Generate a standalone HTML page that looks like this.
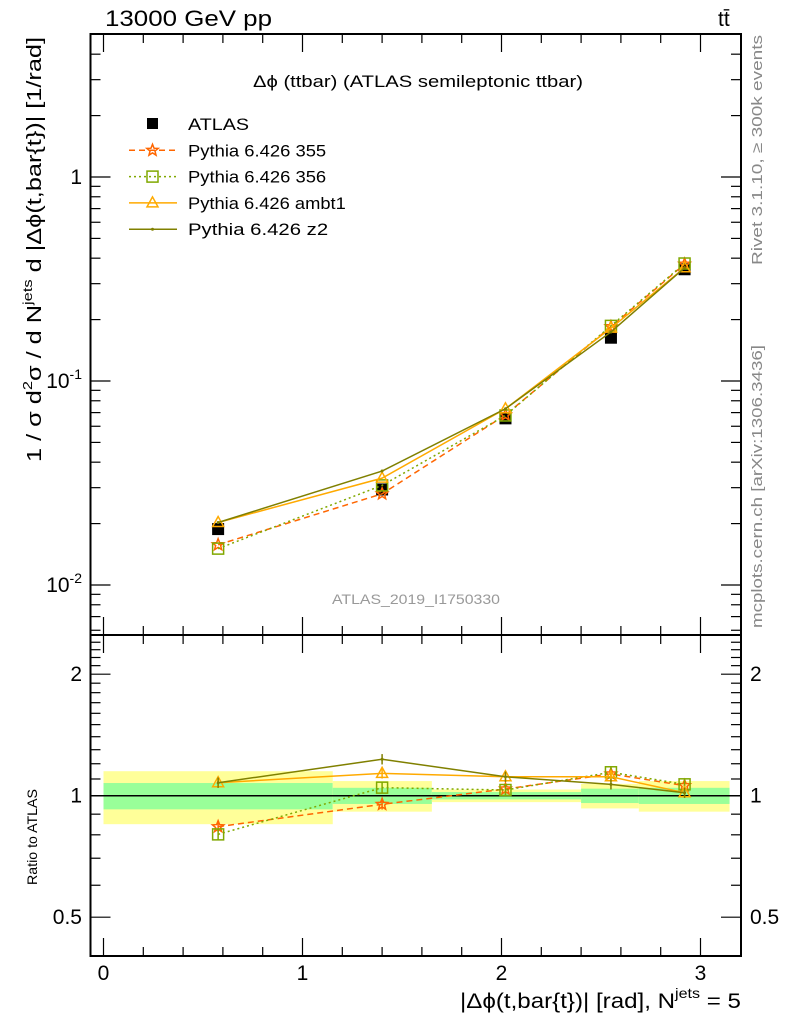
<!DOCTYPE html>
<html><head><meta charset="utf-8"><style>
body{margin:0;background:#fff;}
svg{display:block;font-family:"Liberation Sans",sans-serif;}
</style></head><body>
<svg id="chart" width="786" height="1024" xmlns="http://www.w3.org/2000/svg">
<text x="105" y="26" font-size="22" textLength="167" lengthAdjust="spacingAndGlyphs">13000 GeV pp</text>
<text x="718" y="26" font-size="21">tt̄</text>
<text x="253" y="87" font-size="17" textLength="330" lengthAdjust="spacingAndGlyphs">Δϕ (ttbar) (ATLAS semileptonic ttbar)</text>
<text x="332" y="604" font-size="14" fill="#999" textLength="168" lengthAdjust="spacingAndGlyphs">ATLAS_2019_I1750330</text>
<text transform="translate(762,265) rotate(-90)" font-size="15" fill="#888" textLength="230" lengthAdjust="spacingAndGlyphs">Rivet 3.1.10, ≥ 300k events</text>
<text transform="translate(762,628) rotate(-90)" font-size="15" fill="#888" textLength="283" lengthAdjust="spacingAndGlyphs">mcplots.cern.ch [arXiv:1306.3436]</text>
<text transform="translate(41,462) rotate(-90)" font-size="20" textLength="425" lengthAdjust="spacingAndGlyphs">1 / σ d<tspan font-size="13" dy="-9">2</tspan><tspan dy="9">σ  /  d N</tspan><tspan font-size="13" dy="-9">jets</tspan><tspan dy="9"> d |Δϕ(t,bar{t})| [1/rad]</tspan></text>
<text transform="translate(37,885) rotate(-90)" font-size="14" textLength="96" lengthAdjust="spacingAndGlyphs">Ratio to ATLAS</text>
<text x="460" y="1008" font-size="21" textLength="281" lengthAdjust="spacingAndGlyphs">|Δϕ(t,bar{t})| [rad], N<tspan font-size="14" dy="-10">jets</tspan><tspan dy="10"> = 5</tspan></text>
<g id="g"></g>
</svg>
<script>
const xCenters=[0.576,1.40,2.02,2.55,2.92];
const binEdges=[0,1.152,1.65,2.40,2.69,3.146];
const atlasVals=[0.0188,0.0294,0.0656,0.163,0.353];
const totErr=[0.15,0.087,0.036,0.07,0.087];
const statErr=[0.075,0.046,0.021,0.041,0.046];
const ratio355=[0.838,0.952,1.039,1.132,1.059];
const ratio356=[0.802,1.047,1.033,1.143,1.067];
const ratioAmbt1=[1.077,1.136,1.114,1.114,1.017];
const ratioZ2=[1.077,1.231,1.114,1.067,1.017];
const legendLabels=["ATLAS","Pythia 6.426 355","Pythia 6.426 356","Pythia 6.426 ambt1","Pythia 6.426 z2"];
const xTicks=[0,1,2,3];
const yTicks=[1,0.1,0.01];
const rTicks=[0.5,1,2];

const NS="http://www.w3.org/2000/svg";
const g=document.getElementById('g');
const L=90.5,R=741,T=34,M=635,B=956;
const X=v=>103.5+199*v;
const Y=v=>177-204*Math.log10(v);
const RY=v=>795.7-121.5*Math.log2(v);
function el(t,a,p){const e=document.createElementNS(NS,t);for(const k in a)e.setAttribute(k,a[k]);(p||g).appendChild(e);return e;}

for(let i=0;i<5;i++){
  const b1=el('rect',{x:X(binEdges[i]),y:RY(1+totErr[i]),width:X(binEdges[i+1])-X(binEdges[i]),height:RY(1-totErr[i])-RY(1+totErr[i]),fill:'#ffff99'});
  
  
  const b2=el('rect',{x:X(binEdges[i]),y:RY(1+statErr[i]),width:X(binEdges[i+1])-X(binEdges[i]),height:RY(1-statErr[i])-RY(1+statErr[i]),fill:'#99ff99'});
  
  
}
el('line',{x1:L,x2:R,y1:RY(1),y2:RY(1),stroke:'#000','stroke-width':1.5});

const f1=el('rect',{x:L,y:T,width:R-L,height:M-T,fill:'none',stroke:'#000','stroke-width':2});


const f2=el('rect',{x:L,y:M,width:R-L,height:B-M,fill:'none',stroke:'#000','stroke-width':2});



for(let v=0;v<=3.15;v+=0.2){
  const major=Math.abs(v-Math.round(v))<1e-6;const len=major?18:9;const x=X(v);
  [[T,1],[M,-1],[M,1],[B,-1]].forEach(([y0,d])=>el('line',{x1:x,x2:x,y1:y0,y2:y0+d*len,stroke:'#000','stroke-width':1.2}));
}
xTicks.forEach(v=>{const t=el('text',{x:X(v),y:980,'font-size':21,'text-anchor':'middle'});t.textContent=v;

});
for(let d=-3;d<=0;d++)for(let m=1;m<=9;m++){
  const v=m*Math.pow(10,d);const y=Y(v);if(y<T||y>M)continue;const len=m==1?20:10;
  el('line',{x1:L,x2:L+len,y1:y,y2:y,stroke:'#000','stroke-width':1.2});
  el('line',{x1:R,x2:R-len,y1:y,y2:y,stroke:'#000','stroke-width':1.2});
}
yTicks.forEach(v=>{const t=el('text',{x:82,y:Y(v)+7,'font-size':21,'text-anchor':'end'});
if(v==1)t.textContent='1';else{t.textContent='10';const s=el('tspan',{'font-size':14,dy:-9},t);s.textContent=String(Math.round(Math.log10(v)));}

});
for(let v=0.4;v<=2.55;v+=0.1){
  const y=RY(v);if(y<M||y>B)continue;const major=rTicks.some(r=>Math.abs(r-v)<1e-6);const len=major?20:10;
  el('line',{x1:L,x2:L+len,y1:y,y2:y,stroke:'#000','stroke-width':1.2});
  el('line',{x1:R,x2:R-len,y1:y,y2:y,stroke:'#000','stroke-width':1.2});
}
rTicks.forEach(v=>{[[82,'end'],[750,'start']].forEach(([x,a])=>{const t=el('text',{x:x,y:RY(v)+7,'font-size':21,'text-anchor':a});t.textContent=v;

});});

const series=[
 {name:'pythia-355',r:ratio355,c:'#ff6600',dash:'6,4',m:'star'},
 {name:'pythia-356',r:ratio356,c:'#80a800',dash:'2,3',m:'square'},
 {name:'pythia-ambt1',r:ratioAmbt1,c:'#ffaa00',dash:'',m:'tri'},
 {name:'pythia-z2',r:ratioZ2,c:'#808000',dash:'',m:'dot'}];
function marker(m,x,y,c,parent){
  if(m=='star'){let p='';for(let k=0;k<10;k++){const a=-Math.PI/2+k*Math.PI/5,rr=k%2?2.6:6;p+=(x+rr*Math.cos(a))+','+(y+rr*Math.sin(a))+' ';}
    return el('polygon',{points:p,fill:'none',stroke:c,'stroke-width':1.5},parent);}
  if(m=='square')return el('rect',{x:x-5.5,y:y-5.5,width:11,height:11,fill:'none',stroke:c,'stroke-width':1.5},parent);
  if(m=='tri')return el('polygon',{points:`${x},${y-6} ${x-5.5},${y+4} ${x+5.5},${y+4}`,fill:'none',stroke:c,'stroke-width':1.5},parent);
  if(m=='dot')return el('circle',{cx:x,cy:y,r:1.5,fill:c},parent);
  return el('rect',{x:x-6,y:y-6,width:12,height:12,fill:'#000'},parent);
}
atlasVals.forEach((v,i)=>{const m=marker('atlas',X(xCenters[i]),Y(v),'#000');

});
series.forEach(s=>{
  const mv=s.r.map((r,i)=>r*atlasVals[i]);
  const gg=el('g',{});
  
  
  const a={fill:'none',stroke:s.c,'stroke-width':1.5};if(s.dash)a['stroke-dasharray']=s.dash;
  el('polyline',Object.assign({points:mv.map((v,i)=>X(xCenters[i])+','+Y(v)).join(' ')},a),gg);
  el('polyline',Object.assign({points:s.r.map((v,i)=>X(xCenters[i])+','+RY(v)).join(' ')},a),gg);
  mv.forEach((v,i)=>marker(s.m,X(xCenters[i]),Y(v),s.c,gg));
  s.r.forEach((v,i)=>{const x=X(xCenters[i]);el('line',{x1:x,x2:x,y1:RY(v*1.03),y2:RY(v/1.03),stroke:s.c,'stroke-width':1.5},gg);marker(s.m,x,RY(v),s.c,gg);});
});
const styles=[{m:'atlas',c:'#000'}].concat(series);
const legendLens=[89,141,141,161,143];
legendLabels.forEach((lab,i)=>{
  const y=124+i*26.3;const lg=el('g',{});
  
  
  const s=styles[i];
  if(i>0){const a={x1:129,x2:177,y1:y,y2:y,stroke:s.c,'stroke-width':1.5};if(s.dash)a['stroke-dasharray']=s.dash;el('line',a,lg);}
  if(i==0)el('rect',{x:147,y:y-6,width:11,height:11,fill:'#000'},lg);else marker(s.m,152.5,y,s.c,lg);
  const t=el('text',{x:188,y:y+6,'font-size':17,textLength:legendLens[i]*0.98*(i==0?0.7:1),lengthAdjust:'spacingAndGlyphs'},lg);t.textContent=lab;
});
</script>
</body></html>
